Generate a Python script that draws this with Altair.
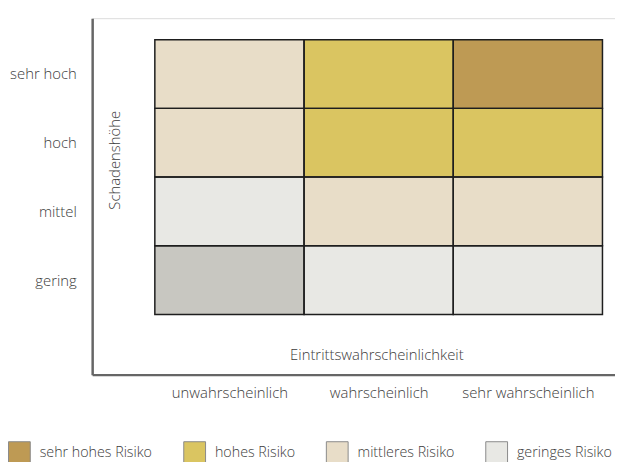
import json
import altair as alt
import pandas as pd

# ---- data ----
probabilities = ["unwahrscheinlich", "wahrscheinlich", "sehr wahrscheinlich"]
severities = ["gering", "mittel", "hoch", "sehr hoch"]  # bottom to top
risk_levels = ["sehr hohes Risiko", "hohes Risiko", "mittleres Risiko",
               "geringes Risiko", "sehr geringes Risiko"]
risk_colors = ["#BE9A54", "#DAC561", "#E8DDC8", "#E8E8E4", "#C8C7C1"]
risk_gering = ["sehr geringes Risiko", "geringes Risiko", "geringes Risiko"]
risk_mittel = ["geringes Risiko", "mittleres Risiko", "mittleres Risiko"]
risk_hoch = ["mittleres Risiko", "hohes Risiko", "hohes Risiko"]
risk_sehr_hoch = ["mittleres Risiko", "hohes Risiko", "sehr hohes Risiko"]

grid = [risk_gering, risk_mittel, risk_hoch, risk_sehr_hoch]
rows = []
for r, sev in enumerate(severities):
    for c, prob in enumerate(probabilities):
        rows.append({"c0": c, "c1": c + 1, "r0": r, "r1": r + 1,
                     "Eintritt": prob, "Schaden": sev, "Risiko": grid[r][c]})
df = pd.DataFrame(rows)

FONT = "Open Sans"
TXT = "#3c3c3c"
W = 300
FS = 15

x_expr = json.dumps(probabilities) + "[round(datum.value - 0.5)]"
y_expr = json.dumps(severities) + "[round(datum.value - 0.5)]"

x_scale = alt.Scale(domain=[-0.42, 3.084], nice=False, zero=False)
y_scale = alt.Scale(domain=[-0.875, 4.313], nice=False, zero=False)

x_axis = alt.Axis(values=[0.5, 1.5, 2.5], labelExpr=x_expr, grid=False, ticks=False,
                  domainColor="#666666", domainWidth=2.5, labelPadding=11,
                  labelFontSize=FS, labelColor=TXT, labelFont=FONT, labelFontWeight=W,
                  title="Eintrittswahrscheinlichkeit", titleX=287, titleY=-20,
                  titleAlign="center", titleBaseline="middle", titleFontWeight=W,
                  titleFontSize=FS, titleColor=TXT, titleFont=FONT)
y_axis = alt.Axis(values=[0.5, 1.5, 2.5, 3.5], labelExpr=y_expr, grid=False, ticks=False,
                  domainColor="#666666", domainWidth=2.5, labelPadding=16,
                  labelFontSize=FS, labelColor=TXT, labelFont=FONT, labelFontWeight=W,
                  title="Schadenshöhe", titleX=23, titleY=143, titleAngle=-90,
                  titleAlign="center", titleBaseline="middle", titleFontWeight=W,
                  titleFontSize=FS, titleColor=TXT, titleFont=FONT)

fill = alt.Chart(df).mark_rect(strokeWidth=0).encode(
    x=alt.X("c0:Q", scale=x_scale, axis=x_axis),
    x2="c1:Q",
    y=alt.Y("r0:Q", scale=y_scale, axis=y_axis),
    y2="r1:Q",
    color=alt.Color("Risiko:N",
                    scale=alt.Scale(domain=risk_levels, range=risk_colors),
                    legend=alt.Legend(values=risk_levels[:4], orient="none",
                                      legendX=-85, legendY=427, direction="horizontal",
                                      title=None, padding=0, symbolType="square",
                                      symbolSize=484, symbolStrokeColor="#8a8a8a",
                                      symbolStrokeWidth=1, labelFontSize=14.4,
                                      labelColor=TXT, labelFont=FONT, labelFontWeight=W,
                                      labelOffset=9, columnPadding=29, labelLimit=300)),
)

borders = alt.Chart(df).mark_rect(fillOpacity=0, stroke="#1e1e1e", strokeWidth=1.5).encode(
    x="c0:Q", x2="c1:Q", y="r0:Q", y2="r1:Q",
)

chart = alt.layer(fill, borders).properties(
    width=528, height=360,
    autosize=alt.AutoSizeParams(type="none"),
    padding={"left": 85, "top": 8, "right": 0, "bottom": 90},
).configure_view(stroke=None).configure(font=FONT)

chart.save("out.html", embed_options={"renderer": "svg", "actions": False})
